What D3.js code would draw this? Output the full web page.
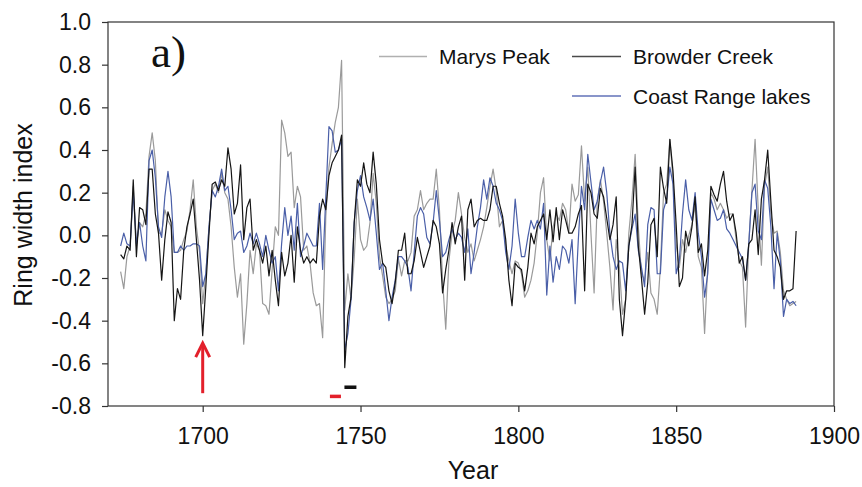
<!DOCTYPE html>
<html>
<head>
<meta charset="utf-8">
<script src="https://cdn.jsdelivr.net/npm/d3@7"></script>
<style>
body { margin: 0; background: #fff; }
text { font-family: "Liberation Sans", Arial, sans-serif; }
</style>
</head>
<body>
<svg id="chart" width="862" height="487"></svg>
<script>
// ring width series, one value per year from startYear
var startYear = 1674

var marysPeak = [
    -0.17, -0.25, -0.10, -0.05, 0.23, -0.05,
    0.06, 0.04, 0.10, 0.37, 0.48, 0.35, 0.01, 0.01, 0.12, 0.07,
    0.04, -0.08, -0.08, -0.07, -0.02, 0.02, 0.12, 0.26, 0.04, -0.08,
    -0.32, -0.18, 0.04, 0.21, 0.24, 0.20, 0.29, 0.20, 0.17, 0.04,
    -0.15, -0.29, -0.18, -0.51, -0.32, -0.07, -0.18, -0.04, -0.07, -0.32,
    -0.33, -0.37, -0.16, 0.04, 0.00, 0.54, 0.48, 0.37, 0.39, 0.13,
    0.23, 0.18, -0.07, -0.05, -0.13, -0.27, -0.33, -0.32, -0.48, 0.09,
    0.32, 0.43, 0.53, 0.60, 0.82, -0.35, -0.18, -0.30, -0.11, 0.17,
    -0.02, -0.07, -0.05, 0.06, 0.29, 0.15, -0.10, -0.19, -0.29, -0.32,
    -0.30, -0.26, -0.11, -0.19, -0.12, -0.12, -0.08, 0.09, 0.12, 0.21,
    0.12, 0.15, 0.17, 0.17, 0.31, 0.12, -0.21, -0.44, -0.12, 0.01,
    0.07, 0.20, 0.10, -0.01, -0.08, -0.04, -0.12, -0.07, -0.02, 0.04,
    0.13, 0.23, 0.31, 0.21, 0.04, 0.07, -0.05, -0.12, -0.18, -0.12,
    -0.13, -0.18, -0.29, -0.26, -0.21, -0.13, 0.01, 0.20, 0.27, -0.02,
    -0.12, 0.04, 0.10, 0.07, 0.15, 0.12, 0.01, 0.24, 0.16, 0.19,
    0.42, 0.16, 0.32, 0.01, -0.27, 0.16, 0.26, 0.16, 0.01, -0.15,
    -0.35, -0.02, -0.15, -0.37, -0.30, 0.01, 0.17, 0.38, 0.04, -0.18,
    -0.21, -0.08, -0.27, -0.30, -0.37, -0.15, 0.20, 0.24, 0.45, 0.26,
    -0.04, -0.15, -0.02, -0.08, 0.00, 0.05, 0.14, -0.10, -0.15, -0.46,
    -0.15, 0.20, 0.17, 0.12, 0.15, 0.12, 0.08, 0.10, 0.10, -0.02,
    -0.12, -0.15, -0.43, -0.04, 0.21, 0.45, 0.12, -0.14, 0.23, 0.32,
    0.10, 0.01, 0.02, -0.08, -0.26, -0.30, -0.33, -0.32, -0.31
]

var browderCreek = [
    -0.09, -0.11, -0.05, -0.07, 0.26, -0.10,
    0.13, 0.12, 0.05, 0.31, 0.31, 0.10, 0.01, -0.21, -0.02, 0.11,
    0.06, -0.40, -0.25, -0.30, -0.07, 0.04, 0.10, 0.17, -0.02, -0.21,
    -0.47, -0.24, 0.01, 0.24, 0.25, 0.21, 0.26, 0.23, 0.41, 0.31,
    0.10, 0.15, 0.33, -0.02, 0.13, 0.17, -0.07, -0.02, -0.07, -0.13,
    -0.05, -0.19, -0.07, -0.21, -0.33, -0.08, -0.19, -0.13, 0.00, -0.22,
    0.04, -0.07, -0.13, -0.10, -0.13, -0.11, -0.13, 0.09, 0.17, 0.12,
    0.28, 0.34, 0.37, 0.40, 0.47, -0.62, -0.38, -0.29, 0.06, 0.26,
    0.23, 0.34, 0.24, 0.20, 0.39, 0.24, -0.02, -0.13, -0.15, -0.26,
    -0.32, -0.22, -0.07, -0.07, 0.01, -0.18, -0.18, -0.12, -0.01, -0.08,
    -0.15, -0.10, -0.05, 0.07, 0.04, -0.04, -0.27, -0.16, -0.07, 0.06,
    -0.04, 0.04, 0.09, -0.21, 0.12, 0.17, 0.04, 0.07, 0.08, 0.07,
    0.07, 0.12, 0.23, 0.23, 0.15, 0.09, -0.02, -0.21, -0.33, -0.13,
    -0.15, -0.16, -0.26, -0.15, 0.01, -0.04, 0.04, 0.07, 0.10, -0.02,
    0.12, -0.03, 0.13, -0.02, 0.12, 0.07, 0.01, 0.01, 0.04, 0.10,
    0.14, -0.26, 0.24, 0.20, 0.10, 0.08, 0.22, 0.18, 0.08, -0.02,
    0.05, 0.18, -0.30, -0.47, -0.30, -0.05, 0.05, 0.32, -0.05, -0.20,
    -0.37, -0.22, 0.05, 0.08, -0.10, 0.32, 0.22, 0.15, 0.45, 0.30,
    0.05, -0.24, -0.20, 0.02, -0.05, 0.04, 0.18, -0.08, -0.04, -0.19,
    -0.07, 0.23, 0.19, 0.16, 0.24, 0.30, 0.16, 0.07, 0.10, 0.01,
    -0.13, -0.10, -0.21, -0.04, -0.02, 0.12, -0.09, 0.17, 0.26, 0.40,
    0.16, -0.07, -0.10, -0.15, -0.30, -0.26, -0.26, -0.25, 0.02
]

var coastRange = [
    -0.05, 0.01, -0.04, -0.05, 0.20, -0.04,
    0.06, -0.05, -0.12, 0.35, 0.40, 0.27, 0.04, -0.01, 0.18, 0.30,
    0.18, -0.08, -0.08, -0.05, -0.07, -0.05, -0.05, -0.04, -0.04, -0.05,
    -0.24, -0.18, 0.04, 0.21, 0.18, 0.23, 0.31, 0.21, 0.23, 0.12,
    -0.02, 0.01, 0.02, -0.08, -0.05, 0.01, -0.04, 0.01, -0.04, -0.10,
    0.00, -0.07, -0.13, -0.10, -0.26, -0.04, 0.13, 0.00, 0.09, -0.07,
    0.15, -0.10, -0.05, 0.01, -0.02, -0.05, -0.05, 0.15, -0.16, 0.18,
    0.51, 0.49, 0.39, 0.40, 0.45, -0.54, -0.46, -0.30, 0.06, 0.21,
    0.28, 0.18, 0.13, 0.07, 0.17, 0.01, -0.16, -0.13, -0.26, -0.40,
    -0.29, -0.21, -0.10, -0.10, -0.12, -0.15, -0.26, -0.08, 0.09, 0.13,
    0.10, -0.01, -0.04, 0.06, 0.21, 0.07, -0.10, -0.08, -0.02, 0.03,
    -0.02, 0.01, -0.01, -0.08, 0.03, -0.18, -0.08, 0.04, 0.13, 0.26,
    0.17, 0.27, 0.23, 0.15, 0.12, 0.07, -0.08, -0.16, -0.05, 0.17,
    0.01, -0.10, -0.10, -0.01, 0.07, 0.03, 0.07, 0.03, 0.15, -0.28,
    -0.05, -0.22, -0.10, -0.16, -0.05, -0.07, -0.13, -0.02, -0.32, -0.02,
    0.23, 0.12, 0.38, 0.25, 0.12, 0.16, 0.25, 0.32, 0.20, 0.01,
    -0.10, -0.16, -0.12, -0.13, -0.26, -0.05, 0.03, 0.10, -0.07, -0.15,
    -0.24, 0.05, 0.13, 0.12, -0.18, -0.18, 0.12, 0.17, 0.32, 0.24,
    -0.18, -0.12, 0.10, 0.26, 0.12, 0.07, 0.20, 0.01, -0.10, -0.29,
    -0.18, 0.17, 0.12, 0.07, 0.08, 0.12, 0.03, 0.01, -0.02, -0.05,
    -0.08, -0.11, -0.21, -0.04, 0.20, 0.24, 0.02, -0.02, 0.26, 0.22,
    0.04, -0.25, 0.01, -0.12, -0.38, -0.30, -0.32, -0.31, -0.33
]

var seriesNames = ['Marys Peak', 'Browder Creek', 'Coast Range lakes']
var xTicks = [1700, 1750, 1800, 1850, 1900]
var yTicks = [-0.8, -0.6, -0.4, -0.2, 0.0, 0.2, 0.4, 0.6, 0.8, 1.0]

// markers drawn on the chart (year, value)
var arrowYear = 1700, arrowFrom = -0.74, arrowTo = -0.505
var redBar = [1740.3, 1743.8, -0.755]
var blackBar = [1744.9, 1748.7, -0.712]

///////
var svg = d3.select('#chart')
var plotLeft = 108, plotRight = 834, plotTop = 22, plotBottom = 406

var x = d3.scaleLinear().domain([1670, 1900]).range([plotLeft, plotRight])
var y = d3.scaleLinear().domain([-0.8, 1.0]).range([plotBottom, plotTop])

var colors = { 'Marys Peak': '#9a9a9a', 'Browder Creek': '#151515', 'Coast Range lakes': '#4a5fa8' }
var legendColors = { 'Marys Peak': '#b0b0b0', 'Browder Creek': '#4a4a4a', 'Coast Range lakes': '#6272b8' }

function toPoints(values) {
    return values.map(function (v, i) { return { year: startYear + i, value: v } })
}

var line = d3.line()
    .x(d => x(d.year))
    .y(d => y(d.value))

// gray first, black last so it sits on top
var drawOrder = [[seriesNames[0], marysPeak], [seriesNames[2], coastRange], [seriesNames[1], browderCreek]]
drawOrder.forEach(function (s) {
    svg.append('path')
        .datum(toPoints(s[1]))
        .attr('d', line)
        .attr('fill', 'none')
        .attr('stroke', colors[s[0]])
        .attr('stroke-width', 1.2)
        .attr('stroke-linejoin', 'round')
})

// frame
svg.append('rect')
    .attr('x', plotLeft).attr('y', plotTop)
    .attr('width', plotRight - plotLeft).attr('height', plotBottom - plotTop)
    .attr('fill', 'none').attr('stroke', '#333').attr('stroke-width', 1.2)

var fmt = function (d) { return d.toFixed(1) }

var gy = svg.append('g')
    .attr('transform', 'translate(' + plotLeft + ',0)')
    .call(d3.axisLeft(y).tickValues(yTicks).tickFormat(fmt).tickSize(6).tickSizeOuter(0).tickPadding(11))
var gx = svg.append('g')
    .attr('transform', 'translate(0,' + plotBottom + ')')
    .call(d3.axisBottom(x).tickValues(xTicks).tickFormat(d3.format('d')).tickSize(6).tickSizeOuter(0).tickPadding(16))

;[gx, gy].forEach(function (g) {
    g.select('.domain').remove()
    g.selectAll('line').attr('stroke', '#333').attr('stroke-width', 1.2)
    g.selectAll('text').attr('font-size', 23).attr('fill', '#111')
        .style('font-family', '"Liberation Sans", Arial, sans-serif')
})

// axis titles
svg.append('text')
    .attr('x', (plotLeft + plotRight) / 2 + 2).attr('y', 479)
    .attr('text-anchor', 'middle').attr('font-size', 25).attr('fill', '#111')
    .text('Year')
svg.append('text')
    .attr('transform', 'translate(32,' + 215 + ')rotate(-90)')
    .attr('text-anchor', 'middle').attr('font-size', 25).attr('fill', '#111')
    .text('Ring width index')

// panel label
svg.append('text')
    .attr('x', 151).attr('y', 67)
    .style('font-family', '"Liberation Serif", "Times New Roman", serif')
    .attr('font-size', 45).attr('fill', '#111')
    .text('a)')

// legend
var legendRows = [
    { name: seriesNames[0], x1: 379, x2: 427, ty: 56.5 },
    { name: seriesNames[1], x1: 572, x2: 621, ty: 56.5 },
    { name: seriesNames[2], x1: 572, x2: 621, ty: 96 }
]
var lg = svg.append('g')
legendRows.forEach(function (r) {
    lg.append('line')
        .attr('x1', r.x1).attr('x2', r.x2).attr('y1', r.ty).attr('y2', r.ty)
        .attr('stroke', legendColors[r.name]).attr('stroke-width', 1.3)
    lg.append('text')
        .attr('x', r.x2 + 12).attr('y', r.ty).attr('dy', '0.36em')
        .attr('font-size', 21).attr('fill', '#111')
        .text(r.name)
})

// red arrow at 1700
var ax = x(arrowYear), ay0 = y(arrowFrom), ay1 = y(arrowTo)
svg.append('line')
    .attr('x1', ax).attr('x2', ax).attr('y1', ay0).attr('y2', ay1 + 1)
    .attr('stroke', '#e3202b').attr('stroke-width', 3)
svg.append('path')
    .attr('d', 'M' + (ax - 7) + ',' + (ay1 + 14) + 'L' + ax + ',' + ay1 + 'L' + (ax + 7) + ',' + (ay1 + 14))
    .attr('fill', 'none').attr('stroke', '#e3202b').attr('stroke-width', 3)

// small bars under the 1745 dip
svg.append('line')
    .attr('x1', x(redBar[0])).attr('x2', x(redBar[1])).attr('y1', y(redBar[2])).attr('y2', y(redBar[2]))
    .attr('stroke', '#e3202b').attr('stroke-width', 3.5)
svg.append('line')
    .attr('x1', x(blackBar[0])).attr('x2', x(blackBar[1])).attr('y1', y(blackBar[2])).attr('y2', y(blackBar[2]))
    .attr('stroke', '#111').attr('stroke-width', 3.5)
</script>
</body>
</html>
